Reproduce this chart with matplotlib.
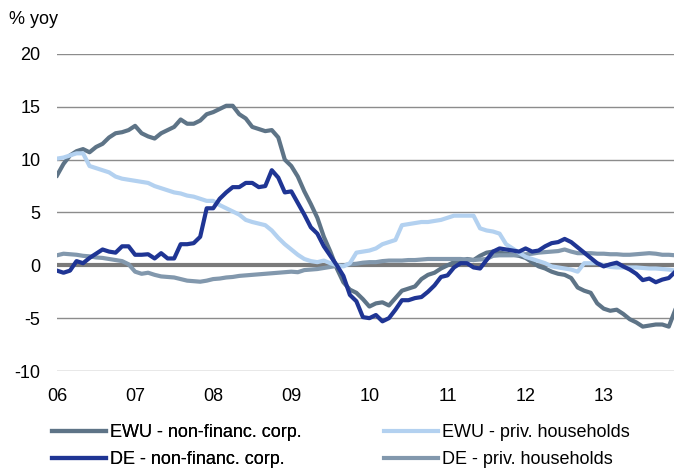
import matplotlib
matplotlib.use("Agg")
import matplotlib.pyplot as plt
import numpy as np

plt.rcParams['font.family'] = ['Liberation Sans', 'DejaVu Sans']

# Monthly year-on-year growth rates, Jan 2006 - Dec 2013
year_labels = ["06", "07", "08", "09", "10", "11", "12", "13"]

ewu_corp = [
    8.5, 9.6, 10.4, 10.8, 11.0, 10.7, 11.2, 11.5, 12.1, 12.5, 12.6, 12.8,
    13.2, 12.5, 12.2, 12.0, 12.5, 12.8, 13.1, 13.8, 13.4, 13.4, 13.7, 14.3,
    14.5, 14.8, 15.1, 15.1, 14.3, 13.9, 13.1, 12.9, 12.7, 12.8, 12.1, 10.0,
    9.4, 8.4, 7.0, 5.8, 4.5, 2.7, 1.3, -0.3, -1.6, -2.3, -2.6, -3.2,
    -3.9, -3.6, -3.5, -3.8, -3.1, -2.4, -2.2, -2.0, -1.3, -0.9, -0.7, -0.3,
    0.0, 0.3, 0.4, 0.6, 0.5, 0.9, 1.2, 1.3, 1.2, 1.1, 1.0, 0.9,
    0.7, 0.3, -0.1, -0.3, -0.6, -0.8, -0.9, -1.2, -2.1, -2.4, -2.6, -3.6,
    -4.1, -4.3, -4.2, -4.6, -5.1, -5.4, -5.8, -5.7, -5.6, -5.6, -5.8, -4.2,
]

ewu_hh = [
    10.1, 10.2, 10.4, 10.6, 10.6, 9.4, 9.2, 9.0, 8.8, 8.4, 8.2, 8.1,
    8.0, 7.9, 7.8, 7.5, 7.3, 7.1, 6.9, 6.8, 6.6, 6.5, 6.3, 6.1,
    6.1, 5.7, 5.4, 5.1, 4.8, 4.3, 4.1, 3.95, 3.8, 3.3, 2.6, 2.0,
    1.5, 1.0, 0.6, 0.4, 0.3, 0.45, 0.2, 0.0, -0.1, 0.2, 1.2, 1.3,
    1.4, 1.6, 2.0, 2.2, 2.4, 3.8, 3.9, 4.0, 4.1, 4.1, 4.2, 4.3,
    4.5, 4.7, 4.7, 4.7, 4.7, 3.5, 3.3, 3.2, 3.0, 2.0, 1.6, 1.2,
    0.8, 0.6, 0.4, 0.2, -0.1, -0.2, -0.3, -0.4, -0.6, 0.2, 0.2, 0.2,
    0.0, -0.15, -0.2, -0.2, -0.2, -0.2, -0.25, -0.3, -0.3, -0.35, -0.4, -0.5,
]

de_corp = [
    -0.5, -0.7, -0.5, 0.4, 0.2, 0.7, 1.1, 1.5, 1.3, 1.2, 1.8, 1.8,
    1.0, 1.0, 1.05, 0.65, 1.15, 0.65, 0.65, 2.0, 2.0, 2.1, 2.7, 5.4,
    5.4, 6.3, 6.9, 7.4, 7.4, 7.8, 7.8, 7.4, 7.5, 9.0, 8.3, 6.9,
    7.0, 5.9, 4.8, 3.6, 3.0, 1.8, 0.9, 0.0, -1.0, -2.8, -3.4, -4.9,
    -5.0, -4.7, -5.3, -5.0, -4.2, -3.3, -3.3, -3.1, -3.0, -2.5, -1.9, -1.1,
    -0.95, -0.2, 0.2, 0.2, -0.2, -0.3, 0.5, 1.3, 1.6, 1.5, 1.4, 1.3,
    1.6, 1.3, 1.4, 1.8, 2.1, 2.2, 2.5, 2.2, 1.7, 1.2, 0.7, 0.2,
    -0.1, 0.1, 0.25, -0.1, -0.4, -0.8, -1.4, -1.25, -1.6, -1.35, -1.2, -0.6,
]

de_hh = [
    0.95, 1.1, 1.05, 1.0, 0.9, 0.85, 0.75, 0.7, 0.6, 0.5, 0.4, 0.1,
    -0.6, -0.8, -0.7, -0.9, -1.05, -1.1, -1.15, -1.3, -1.45, -1.5, -1.55, -1.45,
    -1.3, -1.25, -1.15, -1.1, -1.0, -0.95, -0.9, -0.85, -0.8, -0.75, -0.7, -0.65,
    -0.6, -0.65, -0.45, -0.4, -0.35, -0.25, -0.15, -0.05, 0.0, 0.1, 0.15, 0.25,
    0.3, 0.3, 0.4, 0.45, 0.45, 0.45, 0.5, 0.5, 0.55, 0.6, 0.6, 0.6,
    0.6, 0.6, 0.6, 0.55, 0.5, 0.55, 0.6, 0.9, 0.95, 0.95, 0.95, 1.0,
    1.05, 1.1, 1.2, 1.25, 1.3, 1.35, 1.5, 1.3, 1.15, 1.15, 1.15, 1.1,
    1.1, 1.05, 1.05, 1.0, 1.0, 1.05, 1.1, 1.15, 1.1, 1.0, 1.0, 0.95,
]

months = np.arange(len(ewu_corp))
FS = 13

fig = plt.figure(figsize=(6.74, 4.69), dpi=100)
ax = fig.add_axes([57 / 674, 1 - 371 / 469, 1 - 57 / 674, (371 - 54) / 469])

# gridlines and zero line
for y in [-10, -5, 5, 10, 15, 20]:
    ax.axhline(y, color="#8c8c8c", lw=1.0, zorder=1)
ax.axhline(0, color="#7a7a7a", lw=3.0, zorder=2)

lw = 3.0
l1, = ax.plot(months, ewu_corp, color="#5e7487", lw=lw, zorder=3)
l2, = ax.plot(months, de_corp, color="#1f3594", lw=lw, zorder=5)
l3, = ax.plot(months, ewu_hh, color="#b3d1f0", lw=lw, zorder=4)
l4, = ax.plot(months, de_hh, color="#8298ad", lw=lw, zorder=3.5)

ax.set_xlim(0, 94.8)
ax.set_ylim(-10, 20)
ax.set_yticks([-10, -5, 0, 5, 10, 15, 20])
ax.set_yticklabels(["-10", "-5", "0", "5", "10", "15", "20"])
ax.set_xticks(np.arange(len(year_labels)) * 12)
ax.set_xticklabels(year_labels)
ax.tick_params(axis="both", length=0, labelsize=FS, colors="black")
ax.tick_params(axis="x", pad=12)
ax.tick_params(axis="y", pad=12)
for s in ax.spines.values():
    s.set_visible(False)

fig.text(9 / 674, 1 - 20 / 469, "% yoy", fontsize=FS, va="center", ha="left")

leg_kw = dict(loc="upper left", frameon=False, fontsize=FS, handlelength=3.0,
              handletextpad=0.22, labelspacing=0.55, borderaxespad=0,
              borderpad=0)
leg1 = fig.legend([l1, l2], ["EWU - non-financ. corp.", "DE - non-financ. corp."],
                  bbox_to_anchor=(52 / 674, 1 - 424 / 469), **leg_kw)
fig.add_artist(leg1)
fig.legend([l3, l4], ["EWU - priv. households", "DE - priv. households"],
           bbox_to_anchor=(384 / 674, 1 - 424 / 469), **leg_kw)

fig.savefig("out.png", dpi=100)
